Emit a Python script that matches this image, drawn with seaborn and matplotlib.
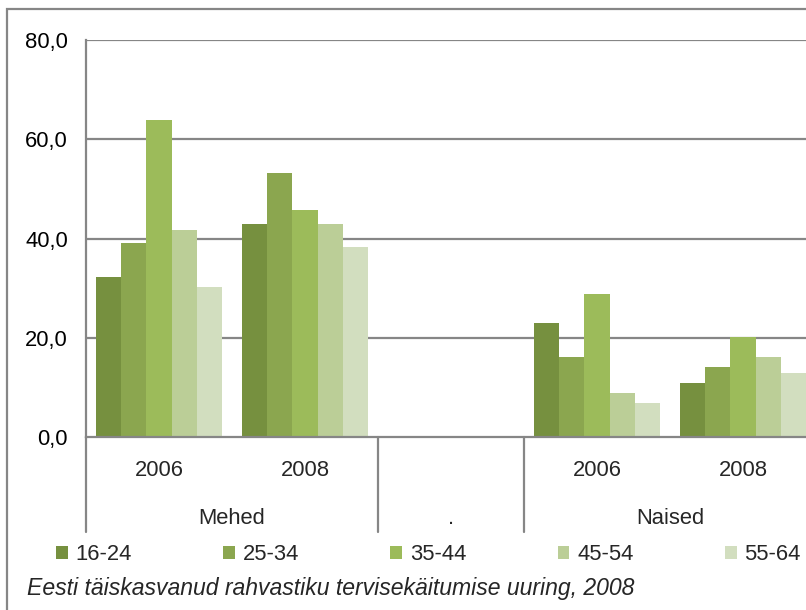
import numpy as np
import pandas as pd
import matplotlib
matplotlib.use("Agg")
import matplotlib.pyplot as plt
from matplotlib.patches import Patch, Rectangle
from matplotlib.lines import Line2D
import seaborn as sns

categories = ["M2006", "M2008", "gap", "N2006", "N2008"]
year_labels = ["2006", "2008", "", "2006", "2008"]
group_labels = ["Mehed", ".", "Naised"]
age_groups = ["16-24", "25-34", "35-44", "45-54", "55-64"]
v_16_24 = [32.2, 43.0, None, 22.9, 10.9]
v_25_34 = [39.0, 53.1, None, 16.1, 14.1]
v_35_44 = [63.9, 45.8, None, 28.9, 20.1]
v_45_54 = [41.8, 43.0, None, 8.8, 16.1]
v_55_64 = [30.2, 38.2, None, 6.8, 12.9]
colors = ["#76903F", "#8BA64F", "#9CBB5A", "#BBCE97", "#D2DEBF"]

rows = []
for ag, vals in zip(age_groups, [v_16_24, v_25_34, v_35_44, v_45_54, v_55_64]):
    for c, v in zip(categories, vals):
        if v is not None:
            rows.append({"cat": c, "age": ag, "val": v})
df = pd.DataFrame(rows)

sns.set_theme(style="white")
plt.rcParams["font.family"] = ["Liberation Sans", "DejaVu Sans"]

FS = 15.8
W, H = 806, 610
fig = plt.figure(figsize=(W / 100, H / 100), dpi=100)
ax = fig.add_axes([86 / W, 1 - 437 / H, 730 / W, 397 / H])

sns.barplot(data=df, x="cat", y="val", hue="age", order=categories,
            hue_order=age_groups, palette=colors, width=0.865,
            errorbar=None, ax=ax, saturation=1, legend=False, linewidth=0)

grid_c = "#868686"
ax.set_ylim(0, 80)
ax.set_xlim(-0.5, 4.5)
ax.set_yticks([0, 20, 40, 60, 80])
ax.set_yticklabels(["0,0", "20,0", "40,0", "60,0", "80,0"], fontsize=FS)
for y in [20, 40, 60, 80]:
    ax.axhline(y, color=grid_c, lw=1.6, zorder=0)
for s in ["top", "right"]:
    ax.spines[s].set_visible(False)
ax.spines["left"].set_color(grid_c)
ax.spines["left"].set_linewidth(1.6)
ax.spines["bottom"].set_color(grid_c)
ax.spines["bottom"].set_linewidth(1.6)
ax.tick_params(axis="y", length=0, pad=13, colors="black")
ax.set_xticks([])
ax.set_xlabel("")
ax.set_ylabel("")

# category separators below axis
depth = -(532 - 437) / 397
for xb in [-0.5, 1.5, 2.5]:
    ax.add_line(Line2D([xb, xb], [0, depth], transform=ax.get_xaxis_transform(),
                       color=grid_c, lw=1.6, clip_on=False))
for i, lab in enumerate(year_labels):
    if lab:
        ax.text(i, -(471 - 437) / 397, lab, transform=ax.get_xaxis_transform(),
                ha="center", va="center", fontsize=FS)
for xc, lab in zip([0.5, 2.0, 3.5], group_labels):
    ax.text(xc, -(519 - 437) / 397, lab, transform=ax.get_xaxis_transform(),
            ha="center", va="center", fontsize=FS)

# legend
handles = [Patch(facecolor=c, edgecolor="none") for c in colors]
fig.legend(handles, age_groups, loc="center left", bbox_to_anchor=(56 / W, 1 - 555 / H),
           ncol=5, frameon=False, fontsize=FS, handlelength=0.54, handleheight=0.54,
           handletextpad=0.36, columnspacing=4.15, borderpad=0, borderaxespad=0)

fig.text(27 / W, 1 - 588 / H, "Eesti täiskasvanud rahvastiku tervisekäitumise uuring, 2008",
         fontsize=16.6, style="italic", ha="left", va="center")

fig.patches.append(Rectangle((7 / W, -0.05), 1.0, 1 - 9 / H + 0.05, transform=fig.transFigure,
                             fill=False, edgecolor=grid_c, lw=1.6))

fig.savefig("out.png", dpi=100)
